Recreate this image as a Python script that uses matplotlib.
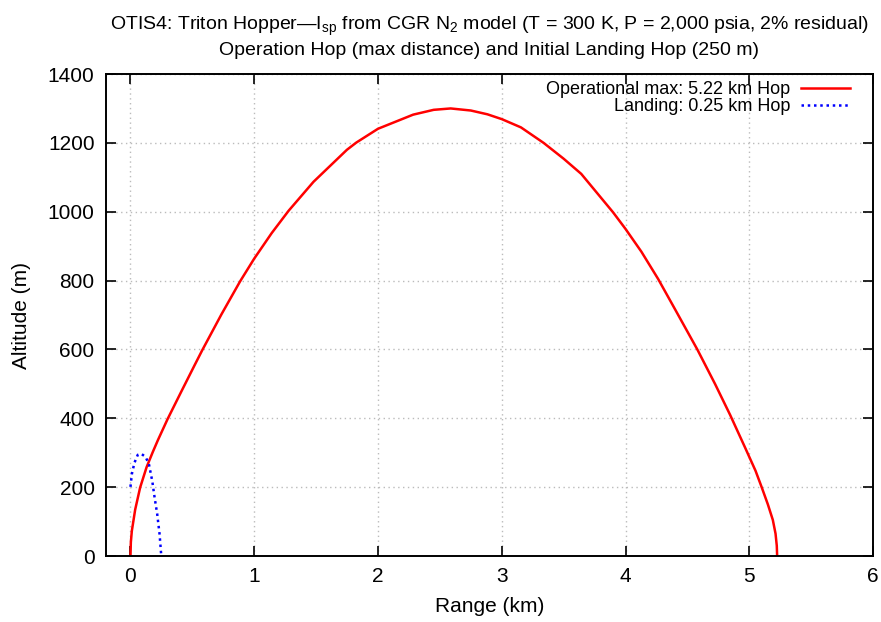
import numpy as np
import matplotlib.pyplot as plt

plt.rcParams['font.family'] = ['Liberation Sans', 'DejaVu Sans']
plt.rcParams['mathtext.fontset'] = 'custom'
plt.rcParams['mathtext.rm'] = 'Liberation Sans'

###################################
# data
###################################
# operational hop (max distance)
op_range = [0.0, 0.003, 0.011, 0.038, 0.078, 0.13, 0.18, 0.222, 0.30, 0.411,
            0.519, 0.58, 0.735, 0.886, 1.0, 1.141, 1.278, 1.479, 1.749, 1.825,
            2.0, 2.284, 2.45, 2.587, 2.75, 2.884, 3.0, 3.155, 3.338, 3.5,
            3.642, 3.90, 4.0, 4.128, 4.263, 4.398, 4.58, 4.723, 4.845, 4.966,
            5.05, 5.10, 5.15, 5.19, 5.212, 5.222, 5.225]
op_alt = [0, 40, 73, 135, 199, 258, 302, 337, 398, 478,
          555, 598, 702, 798, 864, 938, 1003, 1087, 1180, 1201,
          1241, 1282, 1296, 1300, 1294, 1283, 1269, 1245, 1200, 1154,
          1110, 998, 950, 884, 805, 718, 600, 500, 410, 315,
          248, 200, 150, 105, 65, 30, 0]

# initial landing hop (250 m)
land_range = [0.0, 0.011, 0.032, 0.059, 0.087, 0.122, 0.149, 0.176, 0.195,
              0.216, 0.235, 0.249]
land_alt = [201, 238, 271, 294, 297, 288, 267, 218, 170, 122, 64, 0]

xticks = [0, 1, 2, 3, 4, 5, 6]
yticks = [0, 200, 400, 600, 800, 1000, 1200, 1400]

fs = 15

fig = plt.figure(figsize=(8.81, 6.22), dpi=100)
ax = fig.add_axes([0.120, 0.106, 0.871, 0.775])

ax.plot(op_range, op_alt, color='red', lw=1.8, label='Operational max: 5.22 km Hop')
ax.plot(land_range, land_alt, color='blue', lw=1.8, ls=(0, (1, 1.5)),
        label='Landing: 0.25 km Hop')

ax.set_xlim(-0.2, 6)
ax.set_ylim(0, 1400)
ax.set_xticks(xticks)
ax.set_yticks(yticks)
ax.tick_params(direction='in', length=7, width=1.2, top=True, right=True,
               labelsize=fs, pad=8)
ax.grid(True, color='#bbbbbb', ls=(0, (1, 2.5)), lw=1)
for s in ax.spines.values():
    s.set_linewidth(1.4)

ax.set_xlabel('Range (km)', fontsize=fs, labelpad=8)
ax.set_ylabel('Altitude (m)', fontsize=fs, labelpad=12)
ax.set_title('OTIS4: Triton Hopper\u2014I$_\\mathregular{sp}$ from CGR N$_\\mathregular{2}$ model '
             '(T = 300 K, P = 2,000 psia, 2% residual)\n'
             'Operation Hop (max distance) and Initial Landing Hop (250 m)',
             fontsize=14, pad=14, linespacing=1.25)

# gnuplot style key: text on the left, sample on the right
leg = ax.legend(loc='upper right', bbox_to_anchor=(0.970, 0.985), frameon=False,
                markerfirst=False, fontsize=13, handlelength=2.7, handletextpad=0.6,
                labelspacing=0.0, borderpad=0.0, borderaxespad=0.0)

fig.savefig('out.png', dpi=100)
